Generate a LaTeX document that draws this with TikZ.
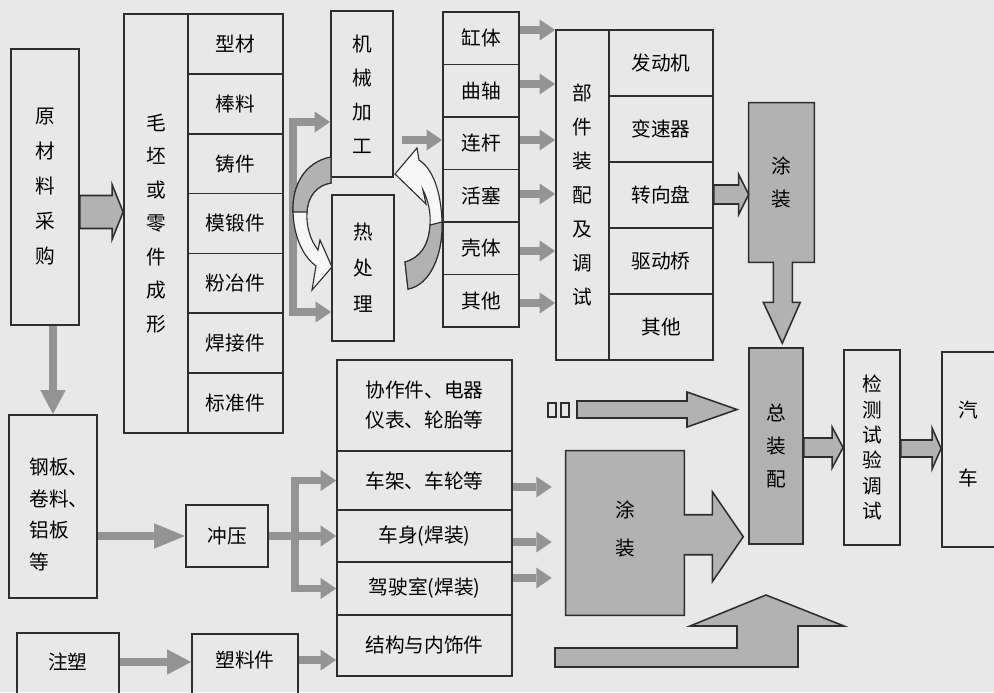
\documentclass[tikz,border=0pt]{standalone}
\usepackage{fontspec}
\setmainfont{Noto Sans CJK SC}
\usetikzlibrary{positioning, calc, arrows.meta}

\definecolor{bgpage}{gray}{0.91}
\definecolor{linec}{gray}{0.18}
\definecolor{flowc}{gray}{0.58}
\definecolor{fillc}{gray}{0.70}
\definecolor{lightc}{gray}{0.97}

\newcommand{\pxunit}{0.025cm}
% right-pointing block arrow: tail ref, tip ref, y, shaft half, head half, head length
\newcommand{\rblock}[6]{%
  \draw[blockarr] (#1 |- 0,#3-#4) -- ($(#2 |- 0,#3-#4)+(-#6,0)$) -- ($(#2 |- 0,#3-#5)+(-#6,0)$)
    -- (#2 |- 0,#3) -- ($(#2 |- 0,#3+#5)+(-#6,0)$) -- ($(#2 |- 0,#3+#4)+(-#6,0)$)
    -- (#1 |- 0,#3+#4) -- cycle;}

\begin{document}
\begin{tikzpicture}[x=0.025cm, y=-0.025cm, font=\fontsize{14}{17}\selectfont,
    cell/.style 2 args={draw=linec, line width=1.3pt, inner sep=0pt,
      minimum width=#1*\pxunit, minimum height=#2*\pxunit},
    vtext/.style={align=center, font=\fontsize{14}{#1}\selectfont},
    flow/.style={draw=flowc, line width=5pt, >={Triangle[length=11pt, width=15pt, line width=0pt]}, ->},
    flowbig/.style={draw=flowc, line width=6pt, >={Triangle[length=#1, width=18pt, line width=0pt]}, ->},
    flowbig/.default=17pt,
    blockarr/.style={draw=linec, fill=fillc, line width=1.1pt},
    curvarr/.style={draw=linec, line width=0.8pt, fill=lightc}]

  % page
  \useasboundingbox (0,0) rectangle (994,692);
  \clip (0,0) rectangle (994,692);
  \fill[bgpage] (0,0) rectangle (994,692);

  % raw material and blanks
  \node[cell={68}{276}, vtext=24.9pt] (raw) at (45,187) {原\\材\\料\\采\\购};
  \node[cell={64}{419}, vtext=23.8pt] (blankL) at (156,223.5) {毛\\坯\\或\\零\\件\\成\\形};
  \foreach \t [count=\i] in {型材,棒料,铸件,模锻件,粉冶件,焊接件,标准件}
    \node[cell={95}{59.857}] (blank\i) at (235.5,{14+59.857*(\i-0.5)}) {\t};

  % machining and heat treatment
  \node[cell={62}{166}, vtext=24.2pt] (machine) at (362,94) {机\\械\\加\\工};
  \node[cell={62}{146}, vtext=25.6pt] (heat) at (363,268) {热\\处\\理};

  % parts
  \foreach \t [count=\i] in {缸体,曲轴,连杆,活塞,壳体,其他}
    \node[cell={76}{52.5}] (part\i) at (481,{12+52.5*(\i-0.5)}) {\t};

  % unit assembly
  \node[cell={53}{330}, vtext=24.2pt] (asmL) at (582.5,195) {部\\件\\装\\配\\及\\调\\试};
  \foreach \t [count=\i] in {发动机,变速器,转向盘,驱动桥,其他}
    \node[cell={104}{66}] (unit\i) at (661,{30+66*(\i-0.5)}) {\t};

  % paint (upper)
  \node[minimum width=65*\pxunit, minimum height=159*\pxunit, inner sep=0pt] (paintA) at (781.5,182.5) {};
  \draw[blockarr] (paintA.north west) -- (paintA.north east) -- (paintA.south east)
    -- ++(-22,0) -- ++(0,40) -- ++(8,0) -- ++(-18,41) -- ++(-19,-41) -- ++(10,0) -- ++(0,-40)
    -- (paintA.south west) -- cycle;
  \node[vtext=23.5pt] (paintAtxt) at (paintA) {涂\\装};

  % sheet metal, stamping, plastics
  \node[cell={88}{183}] (steel) at (53,506.5) {};
  \node[vtext=22.5pt, align=left] (steeltxt) at (59,514.5) {钢板、\\卷料、\\铝板\\等};
  \node[cell={82}{62}] (stamp) at (227,536) {冲压};
  \node[cell={102}{80}] (inject) at (68,673) {};
  \node (injecttxt) at (68,662) {注塑};
  \node[cell={106}{80}] (plastic) at (245,674) {};
  \node (plastictxt) at (245,660) {塑料件};

  % body parts
  \node[cell={175}{91}, vtext=21.3pt] (coop) at (424.5,405.5) {协作件、电器\\仪表、轮胎等};
  \node[cell={175}{59}] (frame) at (424.5,480.5) {车架、车轮等};
  \node[cell={175}{52}] (body) at (424.5,536) {车身(焊装)};
  \node[cell={175}{53}] (cab) at (424.5,588.5) {驾驶室(焊装)};
  \node[cell={175}{61}] (trim) at (424.5,645.5) {结构与内饰件};

  % paint (lower)
  \node[minimum width=118*\pxunit, minimum height=164*\pxunit, inner sep=0pt] (paintB) at (625,533) {};
  \draw[blockarr] (paintB.north west) -- (paintB.north east) -- ++(0,64) -- ++(28,0) -- ++(0,-23)
    -- ++(31,45) -- ++(-31,45) -- ++(0,-27) -- ++(-28,0) -- (paintB.south east) -- (paintB.south west) -- cycle;
  \node[vtext=27pt] (paintBtxt) at (625,529) {涂\\装};

  % final assembly, test, car
  \node[cell={54}{196}, fill=fillc, vtext=23.8pt] (total) at (776,446) {总\\装\\配};
  \node[cell={56}{195}, vtext=18pt] (test) at (872,447.5) {检\\测\\试\\验\\调\\试};
  \node[cell={62}{195}] (car) at (973,449.5) {};
  \node[vtext=48.4pt] (cartxt) at (968,444) {汽\\车};

  % raw material flows
  \rblock{raw.east}{blankL.west}{212}{16.5}{27.5}{11}
  \draw[flowbig] (steel.north |- raw.south) -- (steel.north);
  \draw[flowbig=22pt] (steel.east |- stamp.west) -- (stamp.west);

  % blanks to machining and heat treatment
  \draw[flow, <->] (machine.west |- 0,122) -- (293,122) -- (293,312) -- (heat.west |- 0,312);
  \coordinate (mout) at (402,140);
  \draw[flow] (mout) -- (part3.west |- mout);

  % curved arrows between machining and heat treatment
  \draw[curvarr] (331,157) .. controls (305,162) and (292,185) .. (293,212)
    .. controls (294,240) and (305,258) .. (316,266) -- (312,290) -- (332,267) -- (320,240) -- (318,250)
    .. controls (310,240) and (306,225) .. (307,212) .. controls (308,195) and (318,185) .. (331,183) -- cycle;
  \draw[curvarr, fill=fillc] (331,157) .. controls (305,162) and (292,185) .. (293,212) -- (307,212)
    .. controls (308,195) and (318,185) .. (331,183) -- cycle;
  \draw[curvarr] (408,289) .. controls (430,285) and (443,255) .. (442,222)
    .. controls (441,190) and (432,168) .. (419,160) -- (417,148) -- (395,174) -- (426,204) -- (423,190)
    .. controls (428,200) and (431,212) .. (430,225) .. controls (429,245) and (420,258) .. (405,262) -- cycle;
  \draw[curvarr, fill=fillc] (408,289) .. controls (430,285) and (443,255) .. (442,222) -- (430,225)
    .. controls (429,245) and (420,258) .. (405,262) -- cycle;

  % parts to unit assembly
  \foreach \i/\y in {1/30,2/84,3/140,4/194,5/251,6/303}
    \draw[flow] (part\i.east |- 0,\y) -- (asmL.west |- 0,\y);
  \rblock{unit3.east}{paintA.west}{194.5}{9.5}{20}{10}

  % stamping fork
  \coordinate (fork) at (295,536);
  \draw[flow, -] (stamp.east) -- (fork);
  \draw[flow, -, line cap=rect] (fork |- frame.west) -- (fork |- cab.west);
  \foreach \n in {frame, body, cab}
    \draw[flow] (fork |- \n.west) -- (\n.west);

  % plastics
  \draw[flowbig] (inject.east |- injecttxt) -- (plastic.west |- injecttxt);
  \draw[flow] (plastic.east |- plastictxt) -- (trim.west |- plastictxt);

  % body parts to paint
  \foreach \n/\y in {frame/487, body/542, cab/578}
    \draw[flow] (\n.east |- 0,\y) -- ($(paintB.west |- 0,\y)+(-14,0)$);

  % to final assembly
  \draw[draw=linec, line width=1.1pt] (548,403) rectangle (556,417);
  \draw[draw=linec, line width=1.1pt] (561,403) rectangle (569,417);
  \rblock{577,0}{737,0}{409.5}{8.5}{17.5}{50}
  \draw[blockarr] (555,648) -- (737,648) -- (737,626) -- (690,626) -- (766,595) -- (844,626)
    -- (798,626) -- (798,667) -- (555,667) -- cycle;

  % test and car
  \rblock{total.east}{test.west}{447.5}{9.5}{20.5}{11}
  \rblock{test.east}{car.west}{448.5}{8.5}{20.5}{9}
\end{tikzpicture}
\end{document}
